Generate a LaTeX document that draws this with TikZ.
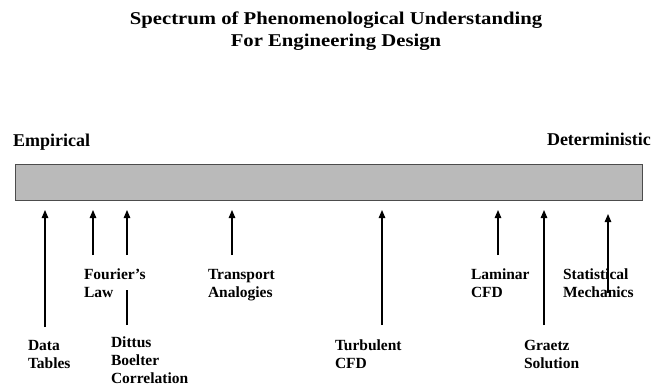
\documentclass[tikz,border=0pt]{standalone}
\usepackage{fontspec}
\setmainfont{Liberation Serif}
\newfontfamily\headfont[FakeStretch=1.15]{Liberation Serif}
\usetikzlibrary{arrows.meta}
\begin{document}
\begin{tikzpicture}[x=1pt,y=-1pt,
	every node/.style={inner sep=0pt,outer sep=0pt},
	title/.style={font=\headfont\bfseries\fontsize{18}{22}\selectfont,align=center,anchor=base},
	pole/.style={font=\bfseries\fontsize{18}{22}\selectfont,anchor=base west},
	lbl/.style={font=\bfseries\fontsize{15.5}{18}\selectfont,align=left,anchor=base west},
	bar/.style={draw=black!70,line width=0.8pt,fill=black!27,minimum width=627pt,minimum height=36pt},
	arr/.style={-{Triangle[length=8pt,width=6.5pt]},line width=1.1pt}]

  \useasboundingbox (0,0) rectangle (660,385);

  % base anchor sits on the last line
  \node [title] (head) at (336,47) {Spectrum of Phenomenological Understanding\\For Engineering Design};

  \node [pole] (emp) at (13,146) {Empirical};
  \node [pole] (det) at (547,145) {Deterministic};

  \node [bar] (bar) at (328.5,182) {};

  % arrow tails
  \foreach \n/\x/\y in {data/45/327,four/93/255,ditt/127/255,tran/232/255,
      turb/382/325,lami/498/255,grae/544/325,stat/608/293}
	  \coordinate (t\n) at (\x,\y);

  \foreach \n/\s in {data/10,four/10,ditt/10,tran/10,turb/10,lami/10,grae/10,stat/14}{
	  \draw [arr,shorten >=\s pt] (t\n) -- (t\n |- bar.south);
  }
  % lower piece of the Dittus arrow, broken under the Fourier label
  \coordinate (dittlo) at (127,325);
  \coordinate (dittup) at (127,290);
  \draw [line width=1.1pt] (dittlo) -- (dittup);

  \node [lbl] (data) at (28,368) {Data\\Tables};
  \node [lbl] (four) at (84,297) {Fourier's\\Law};
  \node [lbl] (ditt) at (111,383) {Dittus\\Boelter\\Correlation};
  \node [lbl] (tran) at (208,297) {Transport\\Analogies};
  \node [lbl] (turb) at (335,368) {Turbulent\\CFD};
  \node [lbl] (lami) at (471,297) {Laminar\\CFD};
  \node [lbl] (grae) at (524,368) {Graetz\\Solution};
  \node [lbl] (stat) at (563,297) {Statistical\\Mechanics};

\end{tikzpicture}
\end{document}
